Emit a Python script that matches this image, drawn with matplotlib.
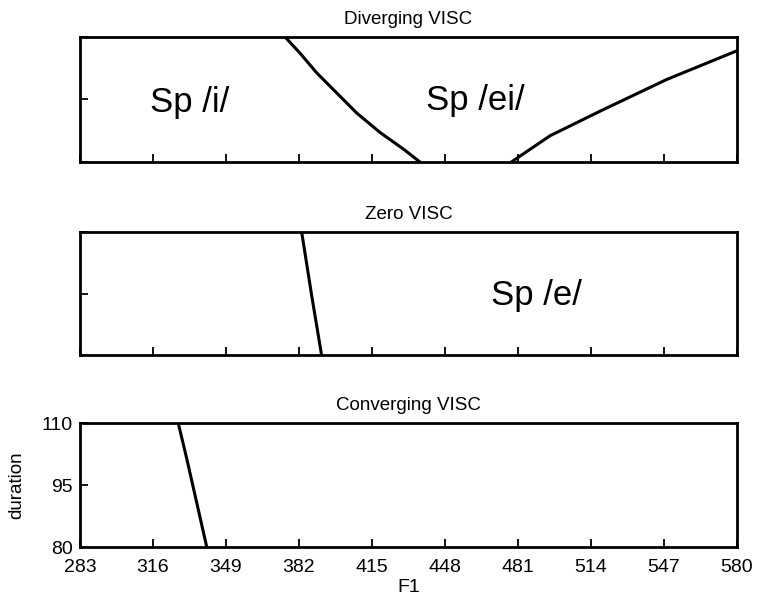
import matplotlib
matplotlib.use('Agg')
import matplotlib.pyplot as plt

plt.rcParams['font.family'] = ['Liberation Sans', 'DejaVu Sans']

# axis ranges / ticks
f1_ticks = [283, 316, 349, 382, 415, 448, 481, 514, 547, 580]
dur_ticks = [80, 95, 110]

# boundary curves (F1, duration)
div_left_f1 = [375.7, 382.5, 390.0, 399.0, 408.0, 418.6, 429.2, 436.7]
div_left_dur = [110.0, 106.1, 101.4, 96.6, 91.8, 87.1, 83.1, 80.0]
div_right_f1 = [478.0, 495.5, 518.1, 548.2, 580.0]
div_right_dur = [80.0, 86.3, 92.2, 99.8, 106.7]

zero_f1 = [383.2, 387.7, 392.2]
zero_dur = [110.0, 94.6, 80.0]

conv_f1 = [327.4, 331.2, 340.3]
conv_dur = [110.0, 101.5, 80.0]

fig = plt.figure(figsize=(7.59, 5.99), dpi=100)

# pixel boxes of the three panels
boxes = [(80, 37, 737, 162), (80, 232, 737, 355), (80, 423, 737, 547)]
titles = ['Diverging VISC', 'Zero VISC', 'Converging VISC']
axes = []
for (x0, y0, x1, y1), title in zip(boxes, titles):
    ax = fig.add_axes([x0 / 759, (599 - y1) / 599, (x1 - x0) / 759, (y1 - y0) / 599])
    ax.set_xlim(283, 580)
    ax.set_ylim(80, 110)
    ax.set_xticks(f1_ticks)
    ax.set_yticks(dur_ticks)
    ax.tick_params(direction='in', length=6, width=1.3, labelsize=14)
    ax.tick_params(axis='x', pad=9)
    ax.tick_params(axis='y', pad=5)
    for s in ax.spines.values():
        s.set_linewidth(2)
    ax.set_title(title, fontsize=13.5, pad=9.5)
    axes.append(ax)

ax1, ax2, ax3 = axes

# top two panels: no tick labels
for ax in (ax1, ax2):
    ax.set_xticklabels([])
    ax.set_yticklabels([])

ax1.plot(div_left_f1, div_left_dur, color='black', lw=2.2)
ax1.plot(div_right_f1, div_right_dur, color='black', lw=2.2)
ax1.text(332.7, 94.3, 'Sp /i/', fontsize=25, ha='center', va='center')
ax1.text(461.6, 94.8, 'Sp /ei/', fontsize=25, ha='center', va='center')

ax2.plot(zero_f1, zero_dur, color='black', lw=2.2)
ax2.text(489.4, 94.5, 'Sp /e/', fontsize=25, ha='center', va='center')

ax3.plot(conv_f1, conv_dur, color='black', lw=2.2)
ax3.set_xlabel('F1', fontsize=14, labelpad=2)
ax3.set_ylabel('duration', fontsize=13.5, labelpad=12)

fig.savefig('out.png', dpi=100)
